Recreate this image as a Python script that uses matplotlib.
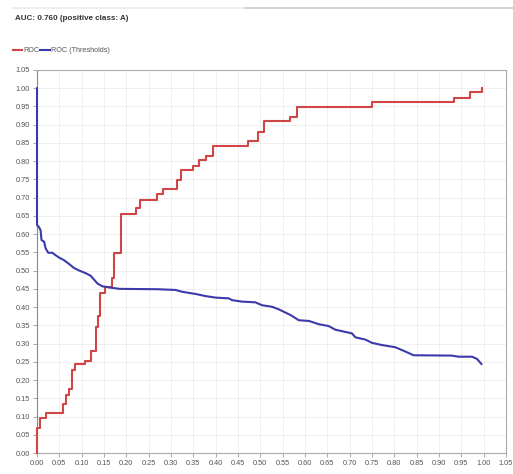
import matplotlib
matplotlib.use("Agg")
import matplotlib.pyplot as plt
from matplotlib.lines import Line2D
import numpy as np

# ----------------------
# Data
# ----------------------
roc_fpr = [0.0, 0.0, 0.007, 0.02, 0.058, 0.065, 0.072, 0.078, 0.085, 0.107,
           0.121, 0.132, 0.136, 0.141, 0.152, 0.168, 0.172, 0.188, 0.221,
           0.23, 0.268, 0.282, 0.313, 0.322, 0.349, 0.362, 0.378, 0.394,
           0.472, 0.494, 0.508, 0.566, 0.582, 0.749, 0.933, 0.969, 0.996]
roc_tpr = [0.0, 0.068, 0.096, 0.11, 0.134, 0.159, 0.175, 0.227, 0.244, 0.252,
           0.28, 0.345, 0.375, 0.438, 0.455, 0.48, 0.548, 0.655, 0.671,
           0.693, 0.709, 0.723, 0.748, 0.775, 0.786, 0.803, 0.814, 0.841,
           0.855, 0.879, 0.909, 0.921, 0.948, 0.962, 0.973, 0.989, 1.0]

thr_fpr = [0.0, 0.0, 0.004, 0.008, 0.01, 0.016, 0.019, 0.025, 0.034, 0.042,
           0.049, 0.06, 0.072, 0.083, 0.095, 0.109, 0.12, 0.128, 0.135,
           0.146, 0.161, 0.185, 0.269, 0.31, 0.325, 0.355, 0.378, 0.4,
           0.429, 0.437, 0.459, 0.489, 0.504, 0.526, 0.541, 0.568, 0.586,
           0.609, 0.631, 0.653, 0.668, 0.69, 0.705, 0.713, 0.735, 0.75,
           0.772, 0.802, 0.825, 0.843, 0.929, 0.944, 0.974, 0.985, 0.995]
thr_val = [1.0, 0.625, 0.62, 0.611, 0.584, 0.579, 0.562, 0.549, 0.549, 0.542,
           0.536, 0.529, 0.518, 0.507, 0.50, 0.493, 0.486, 0.475, 0.465,
           0.457, 0.454, 0.45, 0.449, 0.447, 0.442, 0.436, 0.43, 0.426,
           0.424, 0.419, 0.415, 0.413, 0.405, 0.401, 0.394, 0.378, 0.364,
           0.362, 0.353, 0.348, 0.338, 0.332, 0.328, 0.317, 0.311, 0.302,
           0.296, 0.29, 0.278, 0.268, 0.267, 0.264, 0.264, 0.258, 0.244]

tick_vals = np.round(np.arange(0, 1.0501, 0.05), 2)

RED = "#d04545"
BLUE = "#3a3aaa"
GRAY_TXT = "#555555"

plt.rcParams['font.family'] = ['Liberation Sans Narrow', 'Liberation Sans', 'DejaVu Sans']

fig = plt.figure(figsize=(5.13, 4.74), dpi=100)
ax = fig.add_axes([37 / 513, 1 - 453 / 474, (506 - 37) / 513, (453 - 70) / 474])

ax.step(roc_fpr, roc_tpr, where='post', color=RED, lw=1.5, zorder=3, clip_on=False)
ax.plot(thr_fpr, thr_val, color=BLUE, lw=1.5, zorder=3, clip_on=False)

ax.set_xlim(0, 1.05)
ax.set_ylim(0, 1.05)
ax.set_xticks(tick_vals)
ax.set_yticks(tick_vals)
ax.set_xticklabels([f"{v:.2f}" for v in tick_vals])
ax.set_yticklabels([f"{v:.2f}" for v in tick_vals])
ax.tick_params(labelsize=5.3, colors="#999999", labelcolor=GRAY_TXT, length=3, width=0.6, pad=2)
ax.grid(True, color="#ececec", lw=0.6)
ax.set_axisbelow(True)
for s in ax.spines.values():
    s.set_color("#aaaaaa")
    s.set_linewidth(0.8)
ax.spines['left'].set_color("#888888")

# header
fig.text(15 / 513, 1 - 19 / 474, "AUC: 0.760 (positive class: A)", fontsize=5.8,
         fontweight='bold', color="#333333", va='center', ha='left')
fig.add_artist(Line2D([12 / 513, 245 / 513], [1 - 7.5 / 474] * 2, color="#ececec", lw=1.2))
fig.add_artist(Line2D([245 / 513, 513 / 513], [1 - 7.5 / 474] * 2, color="#cccccc", lw=1.2))

# legend
leg_y = 1 - 50 / 474
fig.add_artist(Line2D([13 / 513, 22 / 513], [leg_y] * 2, color=RED, lw=1.5))
fig.text(23.5 / 513, leg_y, "ROC", fontsize=5.2, color=GRAY_TXT, va='center', ha='left')
fig.add_artist(Line2D([40 / 513, 50 / 513], [leg_y] * 2, color=BLUE, lw=1.5))
fig.text(51 / 513, leg_y, "ROC (Thresholds)", fontsize=5.2, color=GRAY_TXT, va='center', ha='left')

fig.savefig("out.png", dpi=100)
